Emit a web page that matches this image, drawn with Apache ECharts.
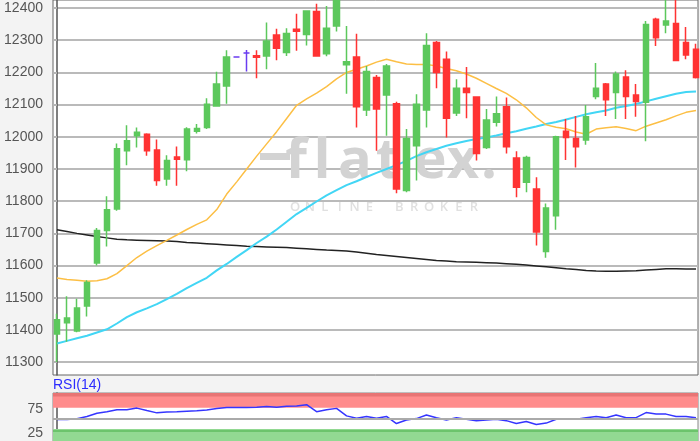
<!DOCTYPE html>
<html><head><meta charset="utf-8">
<script src="https://cdn.jsdelivr.net/npm/echarts@6/dist/echarts.min.js"></script>
<style>html,body{margin:0;padding:0;background:#f3f3f3}#c{width:700px;height:441px}</style>
</head><body><div id="c"></div><script>
// OHLC per trading day (index 0..64)
const opens  = [11387,11422,11397,11474,11608,11709,11776,11957,12003,12008,11959,11869,11937,11929,12017,12029,12096,12158,12248,12260,12252,12251,12316,12262,12334,12318,12389,12258,12344,12224,12248,12083,12184,12130,12103,11833,11972,12083,12293,12241,12074,12151,12124,11967,12045,12093,11934,11859,11838,11644,11755,12017,11995,11990,12125,12164,12138,12186,12130,12107,12365,12347,12352,12293,12272];
const closes = [11432,11437,11468,11547,11709,11773,11963,11988,12014,11957,11864,11926,11930,12024,12026,12101,12164,12248,12248,12260,12247,12298,12275,12321,12328,12391,12251,12337,12440,12233,12093,12203,12086,12220,11838,11995,12101,12284,12200,12058,12151,12138,11948,12052,12072,11969,11843,11936,11704,11779,12000,11998,11969,12062,12151,12115,12195,12125,12110,12349,12308,12360,12237,12254,12184];
const lows   = [11300,11363,11393,11442,11600,11659,11770,11912,11967,11941,11848,11848,11848,11893,12010,12024,12093,12103,12248,12203,12182,12210,12238,12251,12267,12284,12250,12250,12327,12134,12029,12065,11957,12003,11825,11828,11864,12029,12151,11998,12065,12058,11926,11962,12032,11948,11812,11828,11662,11624,11711,11928,11905,11975,12117,12065,12055,12055,12062,11986,12282,12322,12235,12241,12181];
const highs  = [11450,11505,11497,11554,11717,11815,11979,12036,12029,12011,11992,11943,11970,12030,12040,12120,12202,12269,12248,12270,12269,12355,12336,12337,12382,12393,12413,12406,12460,12344,12320,12220,12192,12226,12109,12024,12132,12322,12298,12265,12179,12217,12126,12086,12125,12122,11955,11941,11874,11793,12003,12055,12065,12099,12229,12167,12203,12207,12164,12360,12370,12430,12430,12341,12289];
// moving averages
const maShort = [11561,11557,11554,11551,11553,11559,11575,11600,11625,11645,11662,11678,11695,11712,11728,11742,11774,11822,11860,11900,11940,11978,12016,12057,12098,12118,12136,12156,12180,12200,12210,12220,12232,12241,12233,12226,12225,12225,12220,12212,12205,12195,12182,12166,12150,12135,12115,12090,12060,12037,12030,12025,12015,12008,12024,12028,12031,12026,12019,12033,12043,12053,12065,12076,12082];
const maMid   = [11358,11366,11374,11382,11392,11402,11420,11440,11455,11467,11480,11496,11512,11530,11546,11562,11585,11605,11627,11648,11670,11690,11712,11736,11760,11779,11799,11818,11834,11850,11862,11875,11888,11900,11912,11925,11940,11952,11962,11972,11980,11987,11993,11998,12004,12011,12017,12025,12032,12040,12046,12054,12062,12070,12076,12082,12090,12096,12102,12110,12118,12126,12134,12139,12141];
const maLong  = [11711,11706,11700,11695,11690,11686,11682,11680,11679,11678,11677,11676,11675,11672,11670,11668,11666,11664,11662,11660,11659,11658,11657,11656,11654,11652,11650,11648,11647,11645,11642,11638,11634,11631,11628,11625,11622,11619,11616,11614,11612,11611,11610,11609,11608,11606,11604,11602,11599,11596,11593,11590,11588,11585,11583,11582,11582,11583,11584,11586,11588,11590,11590,11589,11589];
// RSI(14)
const rsi14 = [48.4,48.4,50.2,55.2,62.5,66,70.5,70.5,74,68.6,63.3,65.3,66,67.2,68.3,69.9,73.2,75.3,75.4,75.6,76.2,77.4,76,78,78.7,81.8,66,70.5,73.4,56.5,51.1,55.2,51.1,55.2,39.2,47.1,50.4,58.5,52.5,47.1,52.5,49.1,45.8,47.1,49.1,45.8,39.2,43.8,37.1,40.3,49.1,49.1,49.1,52.5,55.2,52.5,58.5,52.5,52.5,63.9,60.5,60.5,55.2,55.2,52.5];
const rsiLabels = [25, 75];
const rsiTitle = 'RSI(14)';

const chart = echarts.init(document.getElementById('c'));
const purple = '#6a3cf0';
const up = '#5cc85c', down = '#ff3333';
const candleData = opens.map((o, i) => {
  const v = [i, o, closes[i], lows[i], highs[i]];
  if (o === closes[i]) return {value: v, itemStyle: {color: purple, color0: purple, borderColor: purple, borderColor0: purple}};
  return v;
});
const pairs = arr => arr.map((v, i) => [i, v]);
const labelFont = {color: '#555', fontSize: 14, fontFamily: 'Liberation Sans, Arial, sans-serif'};

const wm = [];
const letters = [['f', 296], ['l', 322], ['a', 355], ['t', 388], ['e', 430], ['x', 463], ['.', 489]];
letters.forEach(([ch, x]) => wm.push({type: 'text', z: 1, silent: true, x: x, y: 162,
  style: {text: ch, fill: '#d3d3d3', font: '700 56px "Open Sans", sans-serif', textAlign: 'center', textVerticalAlign: 'middle'}}));
wm.push({type: 'rect', z: 1, silent: true, shape: {x: 260, y: 153, width: 30, height: 7}, style: {fill: '#d3d3d3'}});
const sub = 'ONLINE BROKER';
for (let k = 0; k < sub.length; k++) {
  if (sub[k] === ' ') continue;
  wm.push({type: 'text', z: 1, silent: true, x: 295 + k * 14.9, y: 207,
    style: {text: sub[k], fill: '#e0e0e0', font: '600 13px "Open Sans", sans-serif', textAlign: 'center', textVerticalAlign: 'middle'}});
}
wm.push({type: 'text', z: 5, silent: true, x: 53, y: 385,
  style: {text: rsiTitle, fill: '#2b2bff', font: '14px "Liberation Sans", Arial, sans-serif', textAlign: 'left', textVerticalAlign: 'middle'}});

chart.setOption({
  animation: false,
  backgroundColor: '#f3f3f3',
  graphic: {elements: wm},
  grid: [
    {left: 53, right: 2, top: -1, height: 376, show: true, backgroundColor: '#fff', borderColor: '#666', borderWidth: 1},
    {left: 53, right: 2, top: 393, height: 53.6, show: true, backgroundColor: '#fff', borderColor: '#888', borderWidth: 1}
  ],
  xAxis: [
    {type: 'value', gridIndex: 0, min: -0.4, max: 64.2, show: false},
    {type: 'value', gridIndex: 1, min: -0.4, max: 64.2, show: false}
  ],
  yAxis: [
    {type: 'value', gridIndex: 0, min: 11260, max: 12425, splitNumber: 11,
      axisLine: {show: true, lineStyle: {color: '#555', width: 1.5}},
      axisTick: {show: true, length: 4, lineStyle: {color: '#b5b5b5', width: 2}},
      axisLabel: Object.assign({showMinLabel: false, showMaxLabel: false, margin: 10, formatter: v => String(v)}, labelFont),
      splitLine: {show: true, showMinLine: false, showMaxLine: false, lineStyle: {color: '#bababa', width: 2}}},
    {type: 'value', gridIndex: 1, min: 0, max: 108, interval: 25,
      axisLine: {show: true, lineStyle: {color: '#555', width: 1.5}},
      axisTick: {show: false},
      axisLabel: Object.assign({margin: 10,
        formatter: v => rsiLabels.indexOf(v) < 0 ? '' : (v === 25 ? '{lo|' + v + '}' : '{hi|' + v + '}'),
        rich: {lo: {padding: [7, 0, 0, 0], color: '#555', fontSize: 14}, hi: {padding: [2, 0, 0, 0], color: '#555', fontSize: 14}}}, labelFont),
      splitLine: {show: false}}
  ],
  series: [
    {type: 'line', name: 'MA200', data: pairs(maLong), xAxisIndex: 0, yAxisIndex: 0, showSymbol: false, z: 2,
      lineStyle: {color: '#222', width: 1.5}},
    {type: 'line', name: 'MA50', data: pairs(maMid), xAxisIndex: 0, yAxisIndex: 0, showSymbol: false, z: 2,
      lineStyle: {color: '#42d6f5', width: 2}},
    {type: 'line', name: 'MA20', data: pairs(maShort), xAxisIndex: 0, yAxisIndex: 0, showSymbol: false, z: 2,
      lineStyle: {color: '#fcbf45', width: 1.5}},
    {type: 'candlestick', data: candleData, xAxisIndex: 0, yAxisIndex: 0, z: 3, clip: true,
      encode: {x: 0, y: [1, 2, 3, 4]}, barWidth: 6,
      itemStyle: {color: up, color0: down, borderColor: up, borderColor0: down, borderColorDoji: purple, borderWidth: 1.5}},
    {type: 'line', data: pairs(rsi14), xAxisIndex: 1, yAxisIndex: 1, showSymbol: false, z: 1,
      lineStyle: {opacity: 0}, silent: true,
      markArea: {silent: true, data: [
        [{yAxis: 75, itemStyle: {color: '#ff8c8c'}}, {yAxis: 108}],
        [{yAxis: 100, itemStyle: {color: '#e87474'}}, {yAxis: 108}],
        [{yAxis: 0, itemStyle: {color: '#92d992'}}, {yAxis: 27}]
      ]},
      markLine: {silent: true, symbol: 'none', label: {show: false}, data: [
        {yAxis: 50, lineStyle: {color: '#aaa', width: 2, type: 'solid'}},
        {yAxis: 24, lineStyle: {color: '#6cc46c', width: 2, type: 'solid'}}
      ]}},
    {type: 'line', name: 'RSI', data: pairs(rsi14), xAxisIndex: 1, yAxisIndex: 1, showSymbol: false, z: 4,
      lineStyle: {color: '#3535ff', width: 1.5}}
  ]
});
</script></body></html>
